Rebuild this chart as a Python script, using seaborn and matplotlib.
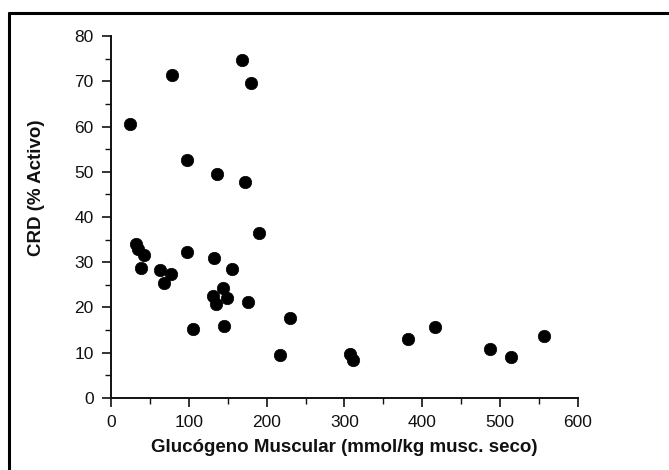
import matplotlib
matplotlib.use("Agg")
import matplotlib.pyplot as plt
from matplotlib.lines import Line2D
from matplotlib.ticker import MultipleLocator
import seaborn as sns
import pandas as pd

# Muscle glycogen (mmol/kg dry muscle) vs. active CRD (%)
glucogeno = [24.4, 78.8, 168.4, 180.0, 97.3, 136.7, 172.3,
             31.8, 35.2, 42.4, 38.2, 63.0, 77.1, 68.5, 97.3,
             132.4, 155.2, 143.6, 131.6, 135.0, 148.7, 175.7,
             190.7, 105.8, 145.7, 230.5, 216.9, 307.3, 311.5,
             381.8, 416.2, 487.3, 514.3, 556.3]
crd_activo = [60.6, 71.3, 74.8, 69.6, 52.5, 49.4, 47.7,
              34.0, 33.0, 31.6, 28.8, 28.3, 27.5, 25.5, 32.2,
              30.9, 28.6, 24.3, 22.6, 20.7, 22.2, 21.3,
              36.5, 15.2, 16.0, 17.6, 9.4, 9.7, 8.5,
              13.0, 15.8, 10.8, 9.1, 13.7]

df = pd.DataFrame({"glucogeno": glucogeno, "crd": crd_activo})

sns.set_theme(style="ticks")
plt.rcParams["font.family"] = ["Liberation Sans", "DejaVu Sans"]

fig = plt.figure(figsize=(6.69, 4.70), dpi=100)
ax = fig.add_axes([0.1659, 0.1532, 0.698, 0.7702])

sns.scatterplot(data=df, x="glucogeno", y="crd", ax=ax, color="black",
                s=80, edgecolor="black", linewidth=0.5, zorder=3)

ax.set_xlim(0, 600)
ax.set_ylim(0, 80)
ax.xaxis.set_major_locator(MultipleLocator(100))
ax.xaxis.set_minor_locator(MultipleLocator(50))
ax.yaxis.set_major_locator(MultipleLocator(10))
ax.yaxis.set_minor_locator(MultipleLocator(5))

for side in ("top", "right"):
    ax.spines[side].set_visible(False)
for side in ("left", "bottom"):
    ax.spines[side].set_linewidth(1.4)
    ax.spines[side].set_color("#111111")

ax.tick_params(which="major", direction="out", length=6.5, width=1.2,
               color="#111111", labelsize=12.5, labelcolor="#111111", pad=6)
ax.tick_params(which="minor", direction="out", length=4, width=1.0,
               color="#111111")

ax.set_xlabel("Glucógeno Muscular (mmol/kg musc. seco)", fontsize=13.5,
              fontweight="bold", color="#111111", labelpad=6)
ax.set_ylabel("CRD (% Activo)", fontsize=13.5, fontweight="bold",
              color="#111111")
ax.yaxis.set_label_coords(-0.141, 0.58)

# Frame lines along the top and left edges of the figure
fig.add_artist(Line2D([9 / 669, 9 / 669], [0, 1 - 13 / 470],
                      transform=fig.transFigure, color="black", linewidth=2.2))
fig.add_artist(Line2D([9 / 669, 1], [1 - 13 / 470, 1 - 13 / 470],
                      transform=fig.transFigure, color="black", linewidth=2.2))

fig.savefig("out.png", dpi=100)
